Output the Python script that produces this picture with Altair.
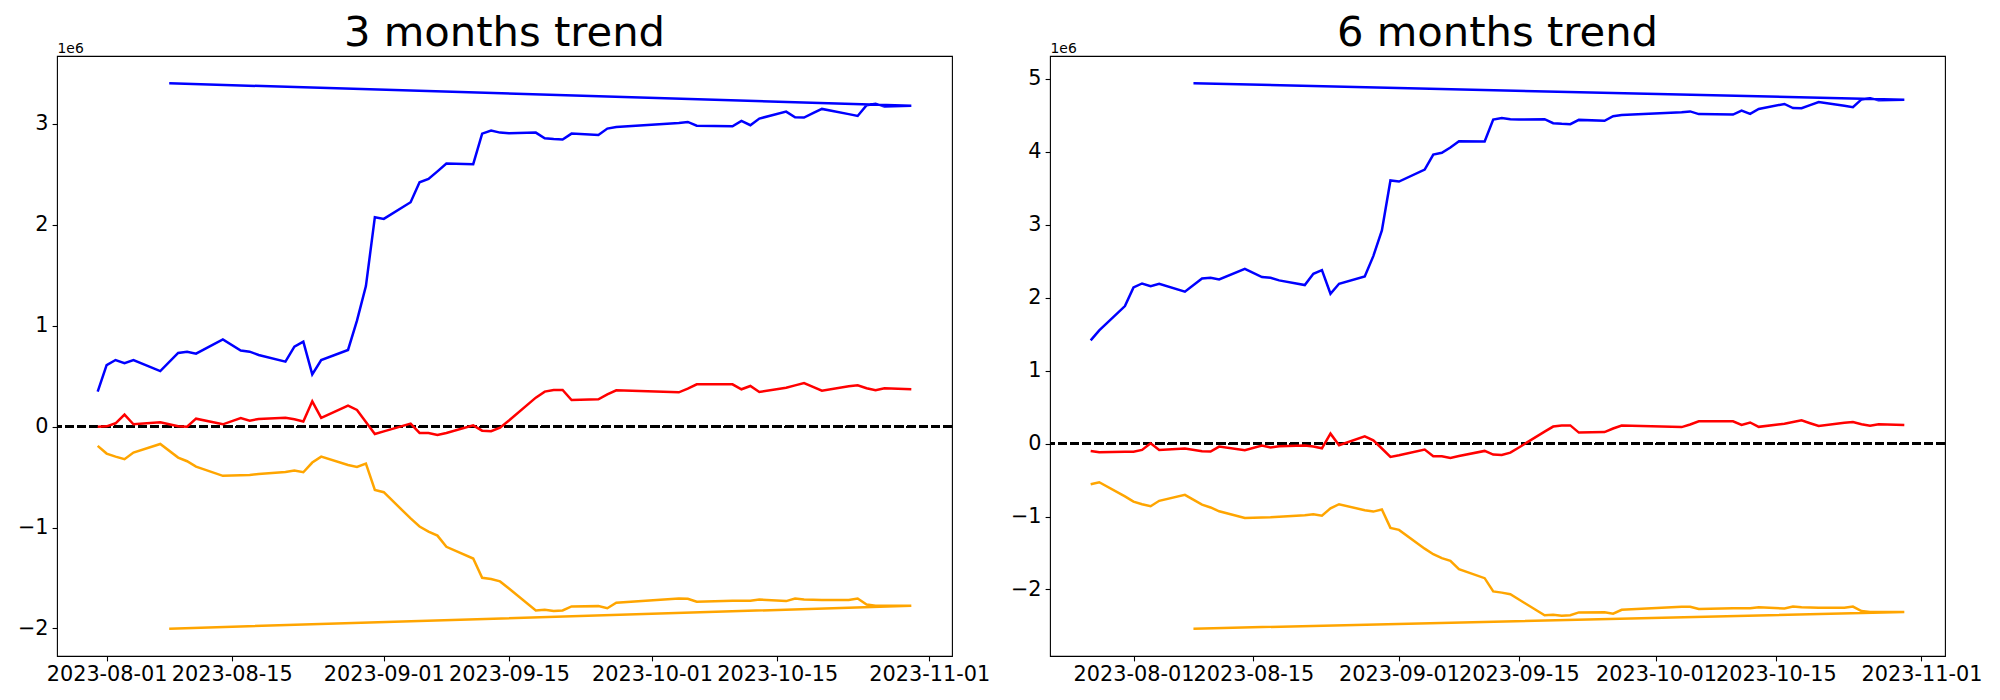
import altair as alt
import pandas as pd

# ---------------- data (values in millions) ----------------
EXTRA_DATE = "2023-08-08"   # out-of-order last point of blue/orange series

dates_3m = ["2023-07-31", "2023-08-01", "2023-08-02", "2023-08-03", "2023-08-04", "2023-08-07",
            "2023-08-09", "2023-08-10", "2023-08-11", "2023-08-14", "2023-08-16", "2023-08-17",
            "2023-08-18", "2023-08-21", "2023-08-22", "2023-08-23", "2023-08-24", "2023-08-25",
            "2023-08-28", "2023-08-29", "2023-08-30", "2023-08-31", "2023-09-01", "2023-09-04",
            "2023-09-05", "2023-09-06", "2023-09-07", "2023-09-08", "2023-09-11", "2023-09-12",
            "2023-09-13", "2023-09-14", "2023-09-15", "2023-09-18", "2023-09-19", "2023-09-20",
            "2023-09-21", "2023-09-22", "2023-09-25", "2023-09-26", "2023-09-27", "2023-10-04",
            "2023-10-05", "2023-10-06", "2023-10-10", "2023-10-11", "2023-10-12", "2023-10-13",
            "2023-10-16", "2023-10-17", "2023-10-18", "2023-10-19", "2023-10-20", "2023-10-23",
            "2023-10-24", "2023-10-25", "2023-10-26", "2023-10-27", "2023-10-30"]
dates_6m = ["2023-07-27", "2023-07-28"] + dates_3m

blue_3m = [0.347, 0.61, 0.66, 0.63, 0.66, 0.55, 0.73, 0.743, 0.723, 0.865, 0.755, 0.743, 0.71,
           0.644, 0.792, 0.842, 0.518, 0.66, 0.76, 1.05, 1.393, 2.076, 2.059, 2.224, 2.422, 2.455,
           2.53, 2.607, 2.601, 2.904, 2.934, 2.914, 2.907, 2.914, 2.858, 2.85, 2.845, 2.904, 2.891,
           2.954, 2.97, 3.01, 3.02, 2.983, 2.977, 3.03, 2.987, 3.053, 3.122, 3.066, 3.063, 3.106,
           3.149, 3.097, 3.079, 3.185, 3.2, 3.172, 3.181]
blue_3m_extra = 3.403
red_3m = [0.0, 0.003, 0.033, 0.119, 0.023, 0.043, 0.003, 0.0, 0.079, 0.023, 0.086, 0.059, 0.076,
          0.089, 0.073, 0.05, 0.251, 0.086, 0.208, 0.165, 0.046, -0.073, -0.047, 0.03, -0.063,
          -0.063, -0.083, -0.063, 0.013, -0.04, -0.046, -0.01, 0.06, 0.287, 0.347, 0.363, 0.363,
          0.264, 0.271, 0.32, 0.36, 0.34, 0.376, 0.419, 0.419, 0.37, 0.403, 0.343, 0.386, 0.409,
          0.432, 0.393, 0.356, 0.4, 0.409, 0.38, 0.36, 0.38, 0.37]
orange_3m = [-0.191, -0.267, -0.297, -0.323, -0.257, -0.172, -0.307, -0.343, -0.396, -0.488,
             -0.482, -0.479, -0.469, -0.449, -0.436, -0.452, -0.356, -0.297, -0.38, -0.399,
             -0.366, -0.627, -0.65, -0.91, -0.99, -1.04, -1.08, -1.191, -1.307, -1.498, -1.511,
             -1.534, -1.605, -1.822, -1.815, -1.828, -1.822, -1.782, -1.779, -1.8, -1.746,
             -1.703, -1.706, -1.736, -1.726, -1.726, -1.726, -1.713, -1.729, -1.703, -1.713,
             -1.716, -1.719, -1.719, -1.703, -1.763, -1.776, -1.776, -1.776]
orange_3m_extra = -2.003

blue_6m = [1.416, 1.552, 1.886, 2.142, 2.196, 2.16, 2.192, 2.083, 2.265, 2.274, 2.251, 2.397,
           2.284, 2.274, 2.238, 2.174, 2.329, 2.379, 2.055, 2.192, 2.293, 2.571, 2.923, 3.608,
           3.594, 3.758, 3.964, 3.987, 4.06, 4.146, 4.142, 4.443, 4.466, 4.448, 4.443, 4.449,
           4.393, 4.385, 4.38, 4.439, 4.426, 4.489, 4.505, 4.545, 4.555, 4.518, 4.512, 4.565,
           4.522, 4.588, 4.657, 4.601, 4.598, 4.641, 4.684, 4.632, 4.614, 4.72, 4.735, 4.707, 4.716]
blue_6m_extra = 4.941
red_6m = [-0.10, -0.118, -0.113, -0.11, -0.086, 0.005, -0.086, -0.068, -0.105, -0.109, -0.041,
          -0.091, -0.027, -0.054, -0.037, -0.027, -0.04, -0.064, 0.137, -0.022, 0.1, 0.046,
          -0.067, -0.182, -0.16, -0.082, -0.173, -0.173, -0.196, -0.17, -0.1, -0.15, -0.155,
          -0.123, -0.053, 0.165, 0.234, 0.25, 0.25, 0.151, 0.158, 0.207, 0.247, 0.227, 0.263,
          0.306, 0.306, 0.257, 0.29, 0.23, 0.273, 0.296, 0.319, 0.28, 0.243, 0.287, 0.296,
          0.267, 0.247, 0.267, 0.257]
orange_6m = [-0.557, -0.529, -0.723, -0.795, -0.831, -0.858, -0.784, -0.703, -0.837, -0.875,
             -0.928, -1.02, -1.014, -1.011, -1.001, -0.982, -0.968, -0.987, -0.888, -0.831,
             -0.913, -0.932, -0.904, -1.155, -1.183, -1.44, -1.516, -1.57, -1.607, -1.721,
             -1.845, -2.027, -2.043, -2.066, -2.137, -2.354, -2.347, -2.36, -2.354, -2.314,
             -2.311, -2.332, -2.278, -2.235, -2.238, -2.268, -2.258, -2.258, -2.258, -2.245,
             -2.261, -2.235, -2.245, -2.248, -2.251, -2.251, -2.235, -2.295, -2.308, -2.308, -2.308]
orange_6m_extra = -2.538

x_ticks = ["2023-08-01", "2023-08-15", "2023-09-01", "2023-09-15",
           "2023-10-01", "2023-10-15", "2023-11-01"]
y_ticks_3m = [-2, -1, 0, 1, 2, 3]
y_ticks_6m = [-2, -1, 0, 1, 2, 3, 4, 5]

SERIES = ["blue", "red", "orange"]
COLORS = ["#0000ff", "#ff0000", "#ffa500"]
FONT = "DejaVu Sans"


def to_dt(ts):
    ts = pd.Timestamp(ts)
    return alt.DateTime(year=ts.year, month=ts.month, date=ts.day,
                        hours=ts.hour, minutes=ts.minute, seconds=ts.second, utc=True)


def panel(title, dates, blue, red, orange, blue_x, orange_x, yticks):
    rows = []
    for s, vals, extra in (("blue", blue, blue_x), ("red", red, None), ("orange", orange, orange_x)):
        ds = list(dates)
        vs = list(vals)
        if extra is not None:
            ds.append(EXTRA_DATE)
            vs.append(extra)
        for i, (d, v) in enumerate(zip(ds, vs)):
            rows.append({"date": d, "value": v, "series": s, "idx": i})
    df = pd.DataFrame(rows)

    t = pd.to_datetime(df["date"])
    t0, t1 = t.min(), t.max()
    tp = (t1 - t0) * 0.05
    v0, v1 = df["value"].min(), df["value"].max()
    vp = (v1 - v0) * 0.05

    x = alt.X("date:T",
              scale=alt.Scale(type="utc", domain=[to_dt(t0 - tp), to_dt(t1 + tp)], nice=False),
              axis=alt.Axis(values=[to_dt(s) for s in x_ticks], format="%Y-%m-%d", title=None,
                            labelOverlap=False, labelFlush=False, labelPadding=4))
    y_scale = alt.Scale(domain=[v0 - vp, v1 + vp], nice=False, zero=False)
    y_axis = alt.Axis(values=yticks, format="d", title="1e6", titleAngle=0, titleX=0,
                      titleY=-4, titleAlign="left", titleBaseline="alphabetic",
                      titleFontSize=13.9, titleFontWeight="normal", labelPadding=4)
    y = alt.Y("value:Q", scale=y_scale, axis=y_axis, title="1e6")

    zero = alt.Chart(df).mark_rule(color="black", strokeDash=[8.5, 3.7], strokeWidth=2.0).encode(
        y=alt.YDatum(0, scale=y_scale, axis=y_axis, title="1e6"))
    lines = alt.Chart(df).mark_line(strokeWidth=2.5).encode(
        x=x, y=y,
        color=alt.Color("series:N", scale=alt.Scale(domain=SERIES, range=COLORS), legend=None),
        order=alt.Order("idx:Q"))
    return alt.layer(zero, lines).properties(
        width=895, height=600,
        title=alt.Title(title, fontSize=41.7, font=FONT, fontWeight="normal", color="black",
                        anchor="middle", frame="group", offset=-13.7))


left = panel("3 months trend", dates_3m, blue_3m, red_3m, orange_3m,
             blue_3m_extra, orange_3m_extra, y_ticks_3m)
right = panel("6 months trend", dates_6m, blue_6m, red_6m, orange_6m,
              blue_6m_extra, orange_6m_extra, y_ticks_6m)

chart = alt.hconcat(left, right, spacing=98, bounds="flush").properties(
    padding={"left": 8, "top": 4, "right": 0, "bottom": 0}
).configure_axis(
    labelFont=FONT, labelFontSize=20.8, labelColor="black", tickColor="black",
    tickWidth=1.1, tickSize=4.9, domain=False, grid=False, titleFont=FONT, titleColor="black"
).configure_view(stroke="black", strokeWidth=1.1)

chart.save("out.html", embed_options={"renderer": "svg", "actions": False})
